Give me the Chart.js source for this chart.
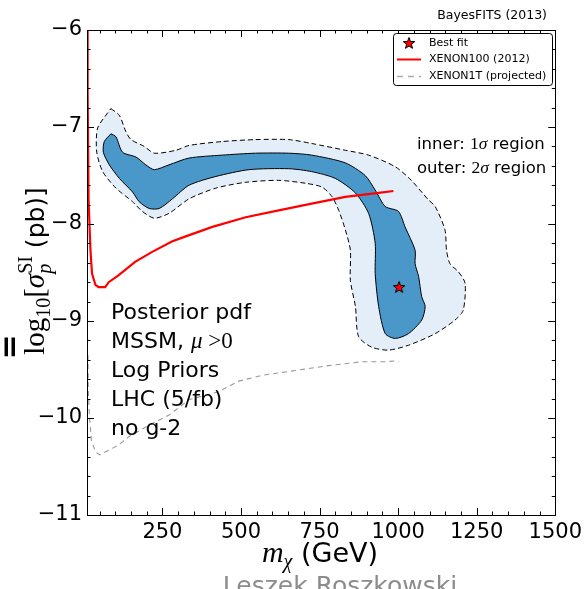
<!DOCTYPE html>
<html>
<head>
<meta charset="utf-8">
<script src="https://cdn.jsdelivr.net/npm/chart.js@4/dist/chart.umd.min.js"></script>
<style>
  html, body { margin: 0; padding: 0; background: #fff; }
  canvas { display: block; }
</style>
</head>
<body>
<canvas id="chart" width="587" height="589"></canvas>
<script>
// axis ticks
const xTicks = [250, 500, 750, 1000, 1250, 1500];
const yTicks = [-11, -10, -9, -8, -7, -6];

// 2 sigma contour (outer, dashed)
const outerX = [86, 113, 134, 150, 192, 224, 293, 335, 440, 546, 652, 725, 832, 906, 991, 1042, 1096, 1118, 1149, 1154,
  1165, 1191, 1213, 1207, 1181, 1118, 1033, 969, 916, 874, 864, 848, 848, 832, 811, 790, 758, 705, 620, 515,
  420, 335, 271, 224, 186, 155, 102, 60, 41, 44, 86];
const outerY = [-6.81, -6.88, -7.05, -7.13, -7.20, -7.27, -7.24, -7.19, -7.15, -7.13, -7.13, -7.17, -7.24, -7.29, -7.41, -7.55, -7.75, -7.82, -8.06, -8.27,
  -8.41, -8.49, -8.61, -8.89, -8.99, -9.13, -9.25, -9.30, -9.27, -9.16, -8.85, -8.58, -8.27, -8.06, -7.86, -7.72, -7.62, -7.58, -7.55, -7.57,
  -7.63, -7.74, -7.89, -7.94, -7.87, -7.77, -7.63, -7.46, -7.26, -7.01, -6.81];

// 1 sigma contour (inner, solid)
const innerX = [86, 102, 123, 166, 197, 224, 271, 335, 440, 546, 652, 725, 832, 895, 927, 959, 1001, 1022, 1054, 1054,
  1065, 1075, 1086, 1075, 1033, 991, 959, 938, 927, 927, 906, 864, 800, 725, 652, 525, 420, 335, 282, 240,
  208, 176, 155, 113, 81, 62, 65, 86];
const innerY = [-7.07, -7.10, -7.26, -7.31, -7.39, -7.44, -7.39, -7.32, -7.29, -7.27, -7.27, -7.29, -7.37, -7.50, -7.65, -7.82, -7.87, -8.03, -8.27, -8.41,
  -8.54, -8.75, -8.85, -8.99, -9.13, -9.18, -9.13, -8.85, -8.51, -8.20, -7.89, -7.68, -7.53, -7.46, -7.43, -7.44, -7.51, -7.60, -7.74, -7.84,
  -7.84, -7.77, -7.67, -7.53, -7.39, -7.26, -7.15, -7.07];

// XENON100 (2012) limit
const xenon100X = [10, 12, 15, 21, 26, 37, 47, 68, 79, 110, 163, 216, 280, 322, 409, 515, 620, 725, 832, 938, 985];
const xenon100Y = [-5.9, -6.62, -7.75, -8.27, -8.51, -8.63, -8.65, -8.65, -8.60, -8.53, -8.39, -8.29, -8.18, -8.13, -8.03, -7.93, -7.86, -7.79, -7.72, -7.68, -7.66];

// XENON1T projected
const xenon1tX = [13, 14, 18, 24, 37, 51, 68, 110, 144, 216, 271, 335, 428, 493, 567, 673, 779, 885, 959, 996, 1001];
const xenon1tY = [-9.35, -9.71, -9.99, -10.23, -10.35, -10.38, -10.35, -10.28, -10.19, -10.06, -9.97, -9.81, -9.73, -9.62, -9.56, -9.51, -9.46, -9.42, -9.42, -9.41, -9.42];

// best fit point
const bestFit = { x: 1003, y: -8.65 };

const SANS = '"DejaVu Sans"';
const SERIF = '"Liberation Serif"';

const pts = (xs, ys) => xs.map((x, i) => ({ x, y: ys[i] }));

function starImage(r) {
  const c = document.createElement('canvas');
  const s = Math.ceil(r * 2 + 4);
  c.width = c.height = s;
  const g = c.getContext('2d');
  g.translate(s / 2, s / 2 + 0.5);
  g.beginPath();
  for (let i = 0; i < 10; i++) {
    const rr = i % 2 ? r * 0.42 : r;
    const a = -Math.PI / 2 + i * Math.PI / 5;
    g.lineTo(rr * Math.cos(a), rr * Math.sin(a));
  }
  g.closePath();
  g.fillStyle = '#ff0000';
  g.fill();
  g.lineWidth = 1;
  g.strokeStyle = '#000';
  g.stroke();
  return c;
}
const star = starImage(6);

// draw a run of mixed-font text (sub/superscripts)
function drawRuns(ctx, runs, x, y, align) {
  let w = 0;
  runs.forEach(r => {
    ctx.font = r.f;
    r.w = ctx.measureText(r.t).width;
    if (!r.noAdv) w += r.w;
  });
  let cx = align === 'center' ? x - w / 2 : x;
  ctx.textAlign = 'left';
  ctx.textBaseline = 'alphabetic';
  runs.forEach(r => {
    ctx.font = r.f;
    ctx.fillText(r.t, cx, y + (r.dy || 0));
    if (!r.noAdv) cx += r.w;
  });
}

const deco = {
  id: 'deco',
  afterDatasetsDraw(chart) {
    const ctx = chart.ctx;
    const { left, right, top, bottom } = chart.chartArea;
    const xs = chart.scales.x, ys = chart.scales.y;
    ctx.save();
    ctx.strokeStyle = '#000';
    ctx.lineWidth = 1;
    ctx.beginPath();
    for (let v = 50; v < 1500; v += 50) {
      const px = Math.round(xs.getPixelForValue(v)) + 0.5;
      const len = v % 250 === 0 ? 7 : 3.5;
      ctx.moveTo(px, bottom); ctx.lineTo(px, bottom - len);
      ctx.moveTo(px, top); ctx.lineTo(px, top + len);
    }
    for (let k = 1; k < 25; k++) {
      const v = -11 + k * 0.2;
      const py = Math.round(ys.getPixelForValue(v)) + 0.5;
      const len = k % 5 === 0 ? 7 : 3.5;
      ctx.moveTo(left, py); ctx.lineTo(left + len, py);
      ctx.moveTo(right, py); ctx.lineTo(right - len, py);
    }
    ctx.stroke();
    ctx.strokeRect(Math.round(left) + 0.5, Math.round(top) + 0.5, Math.round(right - left), Math.round(bottom - top));
    ctx.restore();
  },
  afterDraw(chart) {
    const ctx = chart.ctx;
    ctx.save();
    ctx.fillStyle = '#000';

    // header
    ctx.font = '12.5px ' + SANS;
    ctx.textAlign = 'right';
    ctx.fillText('BayesFITS (2013)', 547, 19);

    // legend
    ctx.beginPath();
    ctx.roundRect(393.5, 33.5, 159, 52, 3);
    ctx.fillStyle = '#fff';
    ctx.fill();
    ctx.strokeStyle = '#000';
    ctx.lineWidth = 1;
    ctx.stroke();
    ctx.drawImage(star, 409 - star.width / 2, 43 - star.height / 2);
    ctx.strokeStyle = '#ff0000';
    ctx.lineWidth = 2;
    ctx.beginPath(); ctx.moveTo(397, 59.5); ctx.lineTo(421, 59.5); ctx.stroke();
    ctx.strokeStyle = '#aaaaaa';
    ctx.lineWidth = 1.3;
    ctx.setLineDash([6, 5]);
    ctx.beginPath(); ctx.moveTo(397, 76.5); ctx.lineTo(421, 76.5); ctx.stroke();
    ctx.setLineDash([]);
    ctx.fillStyle = '#000';
    ctx.font = '11px ' + SANS;
    ctx.textAlign = 'left';
    ctx.textBaseline = 'middle';
    ctx.fillText('Best fit', 429, 43);
    ctx.fillText('XENON100 (2012)', 429, 59.5);
    ctx.fillText('XENON1T (projected)', 429, 76.5);

    // region note
    drawRuns(ctx, [
      { t: 'inner: ', f: '16.5px ' + SANS },
      { t: '1', f: '17.5px ' + SERIF },
      { t: '\u03C3', f: 'italic 17.5px ' + SERIF },
      { t: ' region', f: '16.5px ' + SANS }
    ], 417, 149);
    drawRuns(ctx, [
      { t: 'outer: ', f: '16.5px ' + SANS },
      { t: '2', f: '17.5px ' + SERIF },
      { t: '\u03C3', f: 'italic 17.5px ' + SERIF },
      { t: ' region', f: '16.5px ' + SANS }
    ], 417, 173);

    // info block
    const f22 = '22px ' + SANS;
    drawRuns(ctx, [{ t: 'Posterior pdf', f: f22 }], 111, 319);
    drawRuns(ctx, [
      { t: 'MSSM, ', f: f22 },
      { t: '\u03BC', f: 'italic 23px ' + SERIF },
      { t: ' >', f: '23px ' + SERIF },
      { t: '0', f: '23px ' + SERIF }
    ], 111, 348);
    drawRuns(ctx, [{ t: 'Log Priors', f: f22 }], 111, 377);
    drawRuns(ctx, [{ t: 'LHC (5/fb)', f: f22 }], 111, 406);
    drawRuns(ctx, [{ t: 'no g-2', f: f22 }], 111, 435);

    // x title
    drawRuns(ctx, [
      { t: 'm', f: 'italic 30px ' + SERIF },
      { t: '\u03C7', f: 'italic 20px ' + SERIF, dy: 6 },
      { t: ' (GeV)', f: '27px ' + SANS }
    ], 320, 562, 'center');

    // signature
    ctx.fillStyle = '#8c8c8c';
    ctx.font = '25px ' + SANS;
    ctx.textAlign = 'center';
    ctx.textBaseline = 'alphabetic';
    ctx.fillText('Leszek Roszkowski', 340, 594);

    // y title (rotated)
    ctx.fillStyle = '#000';
    ctx.save();
    ctx.translate(44, 271);
    ctx.rotate(-Math.PI / 2);
    drawRuns(ctx, [
      { t: 'log', f: '29px ' + SERIF },
      { t: '10', f: '20px ' + SERIF, dy: 6 },
      { t: '[', f: '29px ' + SERIF },
      { t: '\u03C3', f: 'italic 29px ' + SERIF },
      { t: 'p', f: 'italic 20px ' + SERIF, dy: 7, noAdv: true },
      { t: 'SI', f: '20px ' + SERIF, dy: -12 },
      { t: ' (pb)]', f: '25px ' + SANS }
    ], 0, 0, 'center');
    ctx.restore();

    // clipped glyph at far left
    ctx.save();
    ctx.translate(19, 347);
    ctx.rotate(-Math.PI / 2);
    ctx.font = 'bold 30px ' + SANS;
    ctx.textAlign = 'center';
    ctx.fillText('=', 0, 0);
    ctx.restore();

    ctx.restore();
  }
};

new Chart(document.getElementById('chart'), {
  type: 'scatter',
  data: {
    datasets: [
      {
        label: 'Best fit',
        data: [bestFit],
        pointStyle: star,
        pointRadius: 6,
        order: 1
      },
      {
        label: 'XENON100 (2012)',
        data: pts(xenon100X, xenon100Y),
        showLine: true,
        borderColor: '#ff0000',
        borderWidth: 2.2,
        pointRadius: 0,
        fill: false,
        order: 2
      },
      {
        label: 'XENON1T (projected)',
        data: pts(xenon1tX, xenon1tY),
        showLine: true,
        borderColor: '#999999',
        borderWidth: 1.1,
        borderDash: [5, 4],
        pointRadius: 0,
        fill: false,
        order: 3
      },
      {
        label: 'inner',
        data: pts(innerX, innerY),
        showLine: true,
        fill: 'shape',
        backgroundColor: '#4a98c9',
        borderColor: '#000',
        borderWidth: 1,
        pointRadius: 0,
        tension: 0.25,
        order: 4
      },
      {
        label: 'outer',
        data: pts(outerX, outerY),
        showLine: true,
        fill: 'shape',
        backgroundColor: '#e3eef9',
        borderColor: '#000',
        borderWidth: 1,
        borderDash: [5, 3],
        pointRadius: 0,
        tension: 0.25,
        order: 5
      }
    ]
  },
  options: {
    responsive: false,
    animation: false,
    events: [],
    layout: { padding: { top: 30, right: 30, left: 0, bottom: 0 } },
    plugins: { legend: { display: false }, tooltip: { enabled: false } },
    scales: {
      x: {
        type: 'linear',
        min: 10,
        max: 1500,
        grid: { display: false, drawTicks: false },
        border: { display: false },
        afterBuildTicks: s => { s.ticks = xTicks.map(v => ({ value: v })); },
        afterFit: s => { s.height = 74; },
        ticks: {
          color: '#000',
          font: { family: SANS, size: 21 },
          padding: 5,
          maxRotation: 0,
          callback: v => String(v)
        }
      },
      y: {
        type: 'linear',
        min: -11,
        max: -6,
        grid: { display: false, drawTicks: false },
        border: { display: false },
        afterBuildTicks: s => { s.ticks = yTicks.map(v => ({ value: v })); },
        afterFit: s => { s.width = 87; },
        ticks: {
          color: '#000',
          font: { family: SANS, size: 21 },
          padding: 5,
          callback: v => '\u2212' + Math.abs(v)
        }
      }
    }
  },
  plugins: [deco]
});
</script>
</body>
</html>
